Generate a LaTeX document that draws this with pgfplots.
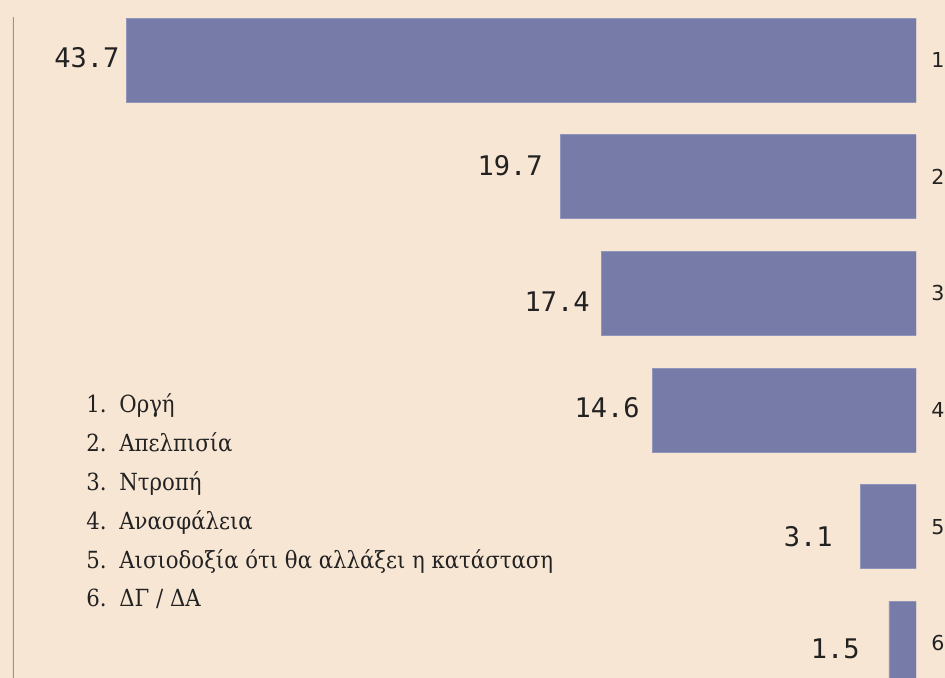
\documentclass[border=0pt]{standalone}
\usepackage{pgfplots}
\pgfplotsset{compat=1.18}
\usepackage{fontspec}
\setmainfont{DejaVu Serif Condensed}
\newfontfamily\monofont{DejaVu Sans Mono}
\newfontfamily\labfont{DejaVu Sans}
\definecolor{bg}{HTML}{F8E6D4}
\definecolor{barc}{HTML}{777BA8}
\definecolor{axc}{HTML}{A09486}
\definecolor{txt}{HTML}{222222}
\begin{document}
\begin{tikzpicture}
\clip (0,0) rectangle (472.5pt,339pt);
\fill[bg] (0,0) rectangle (472.5pt,339pt);
\begin{axis}[
  at={(6.5pt,0pt)}, anchor=south west,
  scale only axis, width=451.5pt, height=330.5pt,
  x dir=reverse, y dir=reverse,
  xmin=0, xmax=50, ymin=0.631, ymax=6.297,
  axis lines=none,
  clip=true,
  ytick={1,2,3,4,5,6},
]
\addplot[xbar, bar shift=0pt, bar width=0.72, fill=barc, draw=barc!80!white, line width=0.4pt]
  coordinates {(43.7,1) (19.7,2) (17.4,3) (14.6,4) (3.1,5) (1.5,6)};
\addplot[draw=none, mark=none, nodes near coords, point meta=explicit symbolic,
  every node near coord/.append style={anchor=east, inner sep=0pt, font=\monofont\fontsize{13.5}{16}\selectfont, text=txt}]
  coordinates {(44.08,0.983)[43.7] (20.65,1.908)[19.7] (18.05,3.075)[17.4] (15.28,3.983)[14.6] (4.60,5.088)[3.1] (3.10,6.049)[1.5]};
\addplot[draw=none, mark=none, nodes near coords, point meta=explicit symbolic,
  every node near coord/.append style={anchor=west, inner sep=0pt, xshift=7.5pt, font=\labfont\fontsize{10.3}{12}\selectfont, text=txt}]
  coordinates {(0,1)[1] (0,2)[2] (0,3)[3] (0,4)[4] (0,5)[5] (0,6)[6]};
\draw[axc, line width=1.3pt] (axis cs:50,0.631) -- (axis cs:50,6.297);
\end{axis}
\begin{scope}[every node/.style={anchor=base west, inner sep=0pt, text=txt, font=\fontsize{11.8}{14}\selectfont}]
\node at (43pt,132.5pt) {\makebox[16.5pt][l]{1.}Οργή};
\node at (43pt,113.1pt) {\makebox[16.5pt][l]{2.}Απελπισία};
\node at (43pt,93.7pt) {\makebox[16.5pt][l]{3.}Ντροπή};
\node at (43pt,74.3pt) {\makebox[16.5pt][l]{4.}Ανασφάλεια};
\node at (43pt,54.9pt) {\makebox[16.5pt][l]{5.}Αισιοδοξία ότι θα αλλάξει η κατάσταση};
\node at (43pt,35.5pt) {\makebox[16.5pt][l]{6.}ΔΓ / ΔΑ};
\end{scope}
\end{tikzpicture}
\end{document}
